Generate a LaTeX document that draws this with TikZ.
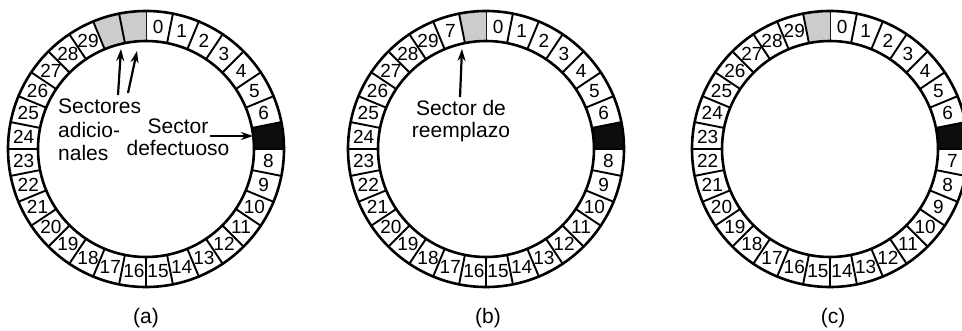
\documentclass[tikz,border=0pt]{standalone}
\usepackage{fontspec}
\setmainfont{Liberation Sans}
\usetikzlibrary{arrows.meta}
\definecolor{spare}{gray}{0.80}
\definecolor{defect}{gray}{0.05}
\tikzset{
  rim/.style={line width=2.6pt},
  divider/.style={line width=1.9pt},
  num/.style={font=\fontsize{19}{19}\selectfont, inner sep=0pt},
  lbl/.style={font=\fontsize{21}{23.5}\selectfont, inner sep=0pt},
  captxt/.style={font=\fontsize{21}{21}\selectfont, inner sep=0pt},
  ptr/.style={line width=2.2pt, -{Stealth[length=12pt,width=8pt]}},
}
\def\plaincol{white}
\newcommand\drawring[3]{%
  \begin{scope}[shift={#2}]
    \foreach \lab/\col [count=\i from 0] in {#3} {
      \pgfmathsetmacro\aa{90-\i*11.25}
      \pgfmathsetmacro\bb{90-(\i+1)*11.25}
      \pgfmathsetmacro\mm{90-(\i+0.5)*11.25}
      \fill[\col] (\aa:108) arc[start angle=\aa, end angle=\bb, radius=108]
        -- (\bb:138) arc[start angle=\bb, end angle=\aa, radius=138] -- cycle;
      \draw[divider] (\aa:108) -- (\aa:138);
      \ifx\col\plaincol
        \node[num] (#1-\i) at (\mm:123) {\lab};
      \fi
    }
    \draw[rim] (0,0) circle[radius=138] (0,0) circle[radius=108];
  \end{scope}}
\begin{document}
\begin{tikzpicture}[x=1pt,y=1pt]
  \useasboundingbox (0,0) rectangle (962,330);
  \clip (0,0) rectangle (962,330);
  \fill[white] (0,0) rectangle (962,330);

  % ring (a)
  \drawring{A}{(146,181)}{0/white,1/white,2/white,3/white,4/white,5/white,6/white,x/defect,8/white,9/white,10/white,11/white,12/white,13/white,14/white,15/white,16/white,17/white,18/white,19/white,20/white,21/white,22/white,23/white,24/white,25/white,26/white,27/white,28/white,29/white,x/spare,x/spare}
  % ring (b)
  \drawring{B}{(486,181)}{0/white,1/white,2/white,3/white,4/white,5/white,6/white,x/defect,8/white,9/white,10/white,11/white,12/white,13/white,14/white,15/white,16/white,17/white,18/white,19/white,20/white,21/white,22/white,23/white,24/white,25/white,26/white,27/white,28/white,29/white,7/white,x/spare}
  % ring (c)
  \drawring{C}{(830,181)}{0/white,1/white,2/white,3/white,4/white,5/white,6/white,x/defect,7/white,8/white,9/white,10/white,11/white,12/white,13/white,14/white,15/white,16/white,17/white,18/white,19/white,20/white,21/white,22/white,23/white,24/white,25/white,26/white,27/white,28/white,29/white,x/spare}

  % texts (a)
  \node[lbl, align=left, anchor=north west] (sa) at (58,231) {Sectores\\adicio-\\nales};
  \node[lbl, align=center, anchor=north, font=\fontsize{21}{22}\selectfont] (sd) at (178,211) {Sector\\defectuoso};
  \coordinate (sa1) at (118,235);
  \coordinate (sa2) at (128,237);
  \coordinate (sp1) at (121,281);
  \coordinate (sp2) at (137,279);
  \draw[ptr] (sa1) -- (sp1);
  \draw[ptr] (sa2) -- (sp2);
  \coordinate (sdt) at (210,194);
  \coordinate (bad) at (253,194);
  \draw[ptr] (sdt) -- (bad);

  % texts (b)
  \node[lbl, align=center, anchor=north, font=\fontsize{21}{22}\selectfont] (sr) at (461,230) {Sector de\\reemplazo};
  \coordinate (srt) at (460,233);
  \coordinate (rep) at (462,281);
  \draw[ptr] (srt) -- (rep);

  % captions
  \node[captxt] (ca) at (146,12) {(a)};
  \node[captxt] (cb) at (488,12) {(b)};
  \node[captxt] (cc) at (833,12) {(c)};
\end{tikzpicture}
\end{document}
